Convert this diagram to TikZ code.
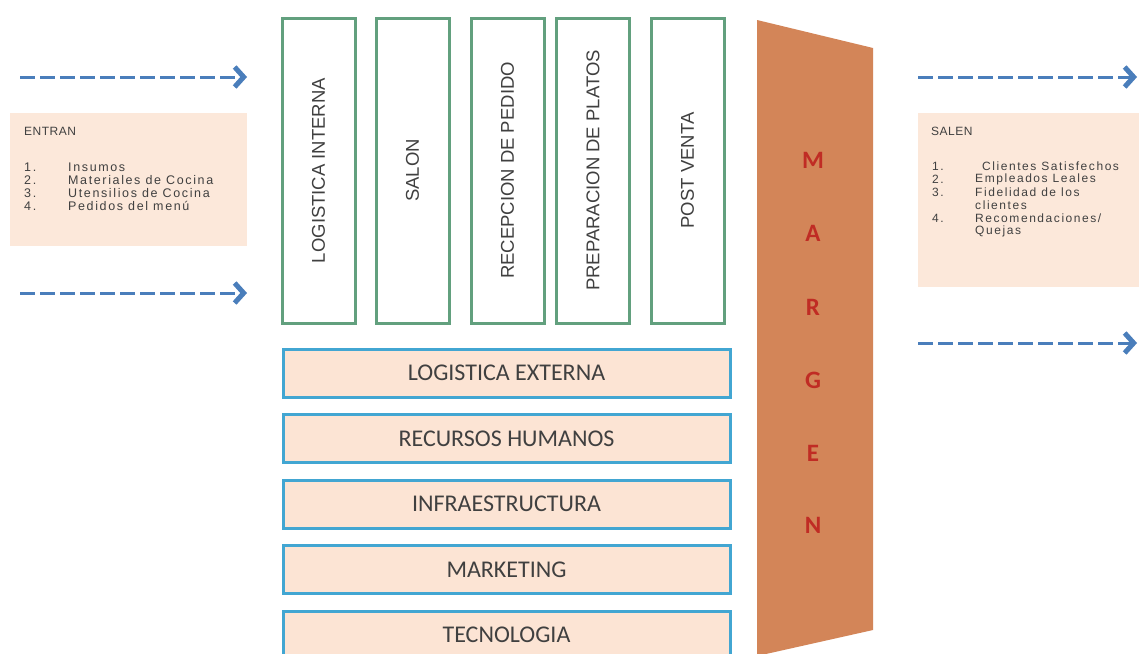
\documentclass[tikz,border=0pt]{standalone}
\usepackage{fontspec}
\setmainfont{Liberation Sans}
\newfontfamily\carl{Carlito}
\newfontfamily\arialsp[LetterSpace=13]{Liberation Sans}
\newfontfamily\arialhd[LetterSpace=4]{Liberation Sans}
\usetikzlibrary{arrows.meta}
\definecolor{arrowblue}{RGB}{74,126,187}
\definecolor{peach}{RGB}{252,232,218}
\definecolor{peachb}{RGB}{252,228,212}
\definecolor{cyanb}{RGB}{66,166,210}
\definecolor{greenb}{RGB}{98,160,126}
\definecolor{margen}{RGB}{211,133,88}
\definecolor{margent}{RGB}{192,44,36}
\definecolor{txt}{RGB}{64,64,64}
\tikzset{
  flow/.style={draw=arrowblue, line width=3pt, dash pattern=on 15pt off 5pt,
    -{Straight Barb[length=9pt,width=20pt,line width=5pt]}},
  vbox/.style={draw=greenb, line width=3pt, fill=white, rotate=90,
    minimum width=305pt, minimum height=73pt, inner sep=0pt, text=txt,
    font=\fontsize{18.5}{20}\selectfont},
  hbox/.style={draw=cyanb, line width=3pt, fill=peachb,
    minimum width=447pt, minimum height=48pt, inner sep=0pt, text=txt,
    font=\carl\fontsize{24}{26}\selectfont},
  infobox/.style={fill=peach, inner sep=0pt},
  ltxt/.style={anchor=west, inner sep=0pt, text=txt, font=\arialsp\fontsize{12.5}{13}\selectfont},
  rtxt/.style={anchor=west, inner sep=0pt, text=txt, font=\arialsp\fontsize{12}{13}\selectfont},
  hd/.style={anchor=west, inner sep=0pt, text=txt, font=\arialhd\fontsize{12}{13}\selectfont},
  mletter/.style={text=margent, inner sep=0pt, font=\carl\bfseries\fontsize{25}{27}\selectfont}
}
\begin{document}
\begin{tikzpicture}[x=1pt,y=-1pt]
\useasboundingbox (0,0) rectangle (1139,653);
\fill[white] (0,0) rectangle (1139,653);

% info boxes
\path[infobox] (10,113) rectangle (247,246);
\node[hd] (entran) at (24,131) {ENTRAN};
\node[ltxt] (en1) at (24,167) {1.};
\node[ltxt] (et1) at (68,167) {Insumos};
\node[ltxt] (en2) at (24,180) {2.};
\node[ltxt] (et2) at (68,180) {Materiales de Cocina};
\node[ltxt] (en3) at (24,193) {3.};
\node[ltxt] (et3) at (68,193) {Utensilios de Cocina};
\node[ltxt] (en4) at (24,206) {4.};
\node[ltxt] (et4) at (68,206) {Pedidos del menú};

\path[infobox] (918,113) rectangle (1139,287);
\node[hd] (salen) at (931,131) {SALEN};
\node[rtxt] (sn1) at (932,166) {1.};
\node[rtxt] (st1) at (982,166) {Clientes Satisfechos};
\node[rtxt] (sn2) at (932,179) {2.};
\node[rtxt] (st2) at (975,179) {Empleados Leales};
\node[rtxt] (sn3) at (932,192) {3.};
\node[rtxt] (st3) at (975,192) {Fidelidad de los};
\node[rtxt] (st3b) at (975,205) {clientes};
\node[rtxt] (sn4) at (932,218) {4.};
\node[rtxt] (st4) at (975,218) {Recomendaciones/};
\node[rtxt] (st4b) at (975,231) {Quejas};

% arrows
\coordinate (l1s) at (20,77);  \coordinate (l1e) at (247,77);
\coordinate (l2s) at (20,293); \coordinate (l2e) at (247,293);
\coordinate (r1s) at (918,77); \coordinate (r1e) at (1137,77);
\coordinate (r2s) at (918,343); \coordinate (r2e) at (1137,343);
\draw[flow] (l1s) -- (l1e);
\draw[flow] (l2s) -- (l2e);
\draw[flow] (r1s) -- (r1e);
\draw[flow] (r2s) -- (r2e);

% primary activities
\node[vbox] (li) at (318.5,170.5) {LOGISTICA INTERNA};
\node[vbox] (sa) at (412.5,170.5) {SALON};
\node[vbox] (rp) at (507.5,170.5) {RECEPCION DE PEDIDO};
\node[vbox] (pp) at (593,170.5) {PREPARACION DE PLATOS};
\node[vbox] (pv) at (687.5,170.5) {POST VENTA};

% support activities
\node[hbox] (le) at (506.5,373) {LOGISTICA EXTERNA};
\node[hbox] (rh) at (506.5,438.5) {RECURSOS HUMANOS};
\node[hbox] (in) at (506.5,504) {INFRAESTRUCTURA};
\node[hbox] (mk) at (506.5,569.5) {MARKETING};
\node[hbox] (te) at (506.5,635) {TECNOLOGIA};

% margin
\fill[margen] (757,20) -- (873,48) -- (873,630) -- (757,656) -- cycle;
\node[mletter] (m1) at (813,160) {M};
\node[mletter] (m2) at (813,233) {A};
\node[mletter] (m3) at (813,307) {R};
\node[mletter] (m4) at (813,380) {G};
\node[mletter] (m5) at (813,453) {E};
\node[mletter] (m6) at (813,525) {N};
\end{tikzpicture}
\end{document}
